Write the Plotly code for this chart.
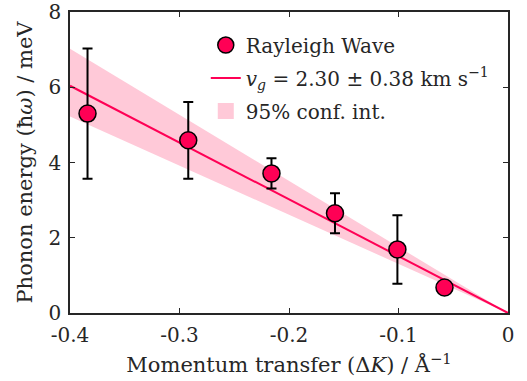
import plotly.graph_objects as go

# ---- data ----
dk = [-0.384, -0.292, -0.216, -0.158, -0.101, -0.058]          # momentum transfer (1/Å)
energy = [5.30, 4.59, 3.71, 2.65, 1.69, 0.68]                  # phonon energy (meV)
energy_err = [1.73, 1.02, 0.40, 0.53, 0.91, 0.06]              # error bars (meV)

fit_x = [-0.4, 0.0]
fit_y = [6.04, 0.0]

band_x = [-0.4, 0.0]
band_upper = [7.02, 0.0]
band_lower = [5.22, 0.0]

x_ticks = [-0.4, -0.3, -0.2, -0.1, 0.0]
x_tick_labels = ["-0.4", "-0.3", "-0.2", "-0.1", "0"]
y_ticks = [0, 2, 4, 6, 8]
y_tick_labels = ["0", "2", "4", "6", "8"]

RED = "#FF0055"
PINK = "rgb(255,201,216)"
INK = "#262626"
FONT = "DejaVu Serif"

fig = go.Figure()

# confidence band (polygon: upper edge then lower edge reversed)
fig.add_trace(go.Scatter(
    x=band_x + band_x[::-1],
    y=band_upper + band_lower[::-1],
    fill="toself", fillcolor=PINK, line=dict(width=0),
    mode="lines", hoverinfo="skip", showlegend=False,
))

# fit line
fit_name = "<i>v</i><sub><i>g</i></sub> = 2.30 ± 0.38 km s<sup>−1</sup>"
fig.add_trace(go.Scatter(
    x=fit_x, y=fit_y, mode="lines",
    line=dict(color=RED, width=2),
    name=fit_name, legendgroup="b", legendrank=2,
))

# data points with error bars
fig.add_trace(go.Scatter(
    x=dk, y=energy, mode="markers",
    marker=dict(size=17, color=RED, line=dict(color="black", width=1.5)),
    error_y=dict(type="data", array=energy_err, visible=True,
                 color="black", thickness=2, width=5),
    name="Rayleigh Wave", legendgroup="a", legendrank=1,
))

# legend proxy for the band
fig.add_trace(go.Scatter(
    x=[None], y=[None], mode="markers",
    marker=dict(symbol="square", size=23, color=PINK),
    name="95% conf. int.", legendgroup="c", legendrank=3,
))

axis_common = dict(
    showline=True, linecolor=INK, linewidth=1.5, mirror="ticks",
    ticks="inside", ticklen=5, tickwidth=1.2, tickcolor=INK,
    showgrid=False, zeroline=False, automargin=False,
    ticklabeloverflow="allow",
    tickfont=dict(family=FONT, size=20, color=INK),
)

fig.update_layout(
    width=527, height=381,
    margin=dict(l=70, r=19, t=12, b=68),
    paper_bgcolor="white", plot_bgcolor="white",
    font=dict(family=FONT, color=INK),
    xaxis=dict(
        range=[-0.4, 0], tickvals=x_ticks, ticktext=x_tick_labels,
        title=dict(text="Momentum transfer (Δ<i>K</i>) / Å<sup>−1</sup>",
                   font=dict(family=FONT, size=21, color=INK), standoff=12),
        ticklabelstandoff=3,
        **axis_common,
    ),
    yaxis=dict(
        range=[0, 8], tickvals=y_ticks, ticktext=y_tick_labels,
        title=dict(text="Phonon energy (ħ<i>ω</i>) / meV",
                   font=dict(family=FONT, size=21, color=INK), standoff=10),
        ticklabelstandoff=3,
        **axis_common,
    ),
    legend=dict(
        x=0.31, y=0.955, xanchor="left", yanchor="top",
        bgcolor="rgba(0,0,0,0)", borderwidth=0,
        font=dict(family=FONT, size=20, color=INK),
        traceorder="grouped", tracegroupgap=4,
    ),
    showlegend=True,
)

fig.write_html("out.html")
